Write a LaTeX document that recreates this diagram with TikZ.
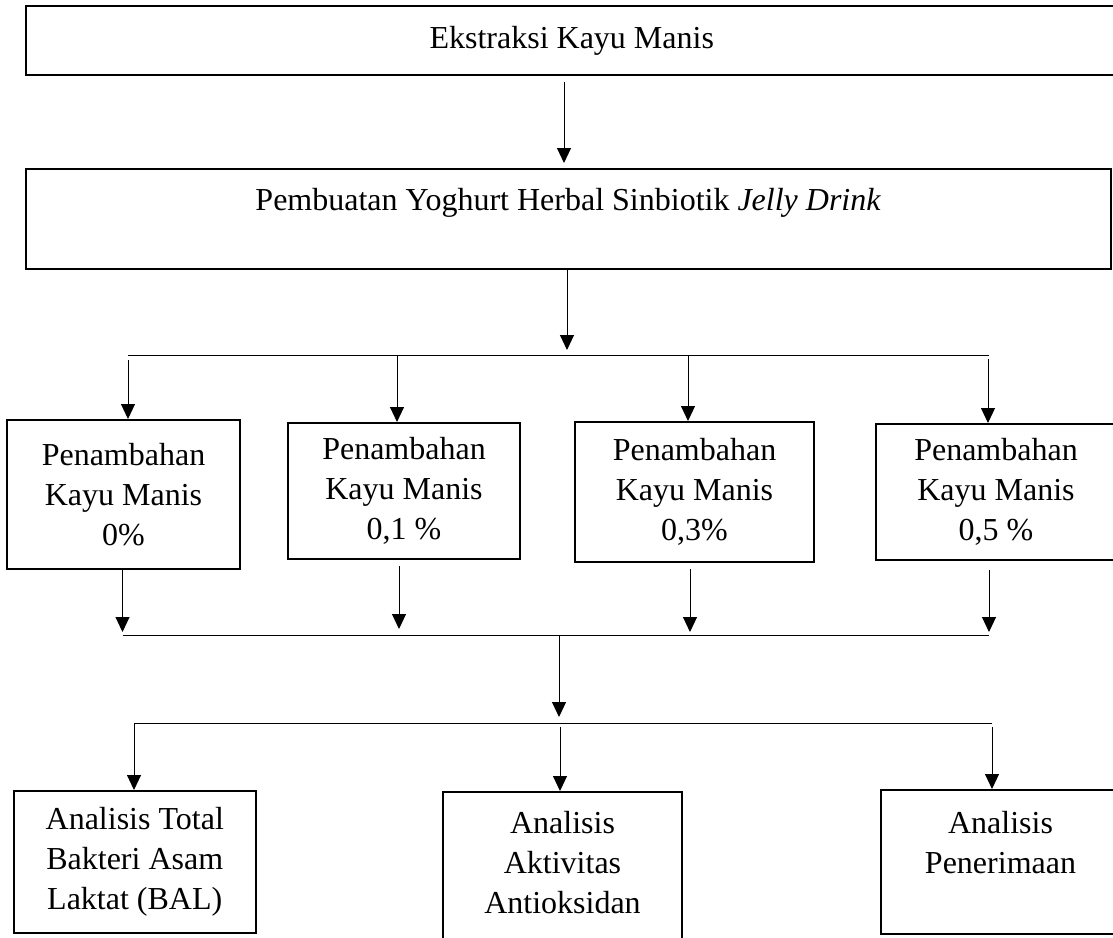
\documentclass[tikz,border=0pt]{standalone}
\usepackage{fontspec}
\setmainfont{Liberation Serif}
\usetikzlibrary{arrows.meta}
\begin{document}
\begin{tikzpicture}[x=1pt,y=-1pt,
  box/.style={draw, line width=2pt, align=center, inner sep=0pt,
    font=\fontsize{32}{40}\selectfont},
  conn/.style={line width=1pt},
  arr/.style={line width=1pt, -{Triangle[length=15pt,width=14pt]}}]
\useasboundingbox (0,0) rectangle (1113,937);

% boxes
\node[box, minimum width=1092.5pt, minimum height=69pt] (b1) at (571.75,40.5) {Ekstraksi Kayu Manis};
\node[box, minimum width=1085.5pt, minimum height=100pt] (b2) at (568.25,219) {Pembuatan Yoghurt Herbal Sinbiotik \textit{Jelly Drink}\\\mbox{}};

\node[box, minimum width=233pt, minimum height=149pt] (pA) at (123.5,494.5) {Penambahan\\Kayu Manis\\0\%};
\node[box, minimum width=232pt, minimum height=136pt] (pB) at (404,491) {Penambahan\\Kayu Manis\\0,1 \%};
\node[box, minimum width=239pt, minimum height=140pt] (pC) at (694.5,492) {Penambahan\\Kayu Manis\\0,3\%};
\node[box, minimum width=240pt, minimum height=136pt] (pD) at (996,492) {Penambahan\\Kayu Manis\\0,5 \%};

\node[box, minimum width=242.5pt, minimum height=142pt] (bal) at (134.75,862) {Analisis Total\\Bakteri Asam\\Laktat (BAL)};
\node[box, minimum width=239pt, minimum height=180pt] (aa) at (562.5,882) {Analisis\\Aktivitas\\Antioksidan\\\mbox{}};
\node[box, minimum width=239pt, minimum height=144pt] (pe) at (1000.5,862) {Analisis\\Penerimaan\\\mbox{}};

% connectors: top
\coordinate (x1) at (564,0);
\draw[arr, shorten <=6pt, shorten >=5pt] (b1.south -| x1) -- (b2.north -| x1);

\coordinate (j1) at (567,355);
\draw[arr, shorten >=5pt] (b2.south -| j1) -- (j1);

\coordinate (tL) at (128,355);
\coordinate (tB) at (397,355);
\coordinate (tC) at (688,355);
\coordinate (tR) at (988,355);
\draw[conn] (tL) -- ([xshift=1pt]tR);
\draw[arr, shorten <=5pt] (tL) -- (tL |- pA.north);
\draw[arr] (tB) -- (tB |- pB.north);
\draw[arr] (tC) -- (tC |- pC.north);
\draw[arr, shorten <=4pt] (tR) -- (tR |- pD.north);

% connectors: middle
\coordinate (mA) at (122.5,635);
\coordinate (mB) at (399,635);
\coordinate (mC) at (690,635);
\coordinate (mD) at (989,635);
\draw[conn] (mA) -- (mD);
\draw[arr, shorten >=3pt] (mA |- pA.south) -- (mA);
\draw[arr, shorten <=6pt, shorten >=6pt] (mB |- pB.south) -- (mB);
\draw[arr, shorten <=6pt, shorten >=3pt] (mC |- pC.south) -- (mC);
\draw[arr, shorten <=9pt, shorten >=3pt] (mD |- pD.south) -- (mD);

\coordinate (m0) at (559,635);
\coordinate (n0) at (560,723);
\draw[arr, shorten >=6pt] (m0) -- (m0 |- n0);

% connectors: bottom
\coordinate (nL) at (134,723);
\coordinate (nR) at (992,723);
\draw[conn] (nL) -- (nR);
\draw[arr] (nL) -- (nL |- bal.north);
\draw[arr, shorten <=4pt] (n0) -- (n0 |- aa.north);
\draw[arr, shorten <=4pt] (nR) -- (nR |- pe.north);
\end{tikzpicture}
\end{document}
